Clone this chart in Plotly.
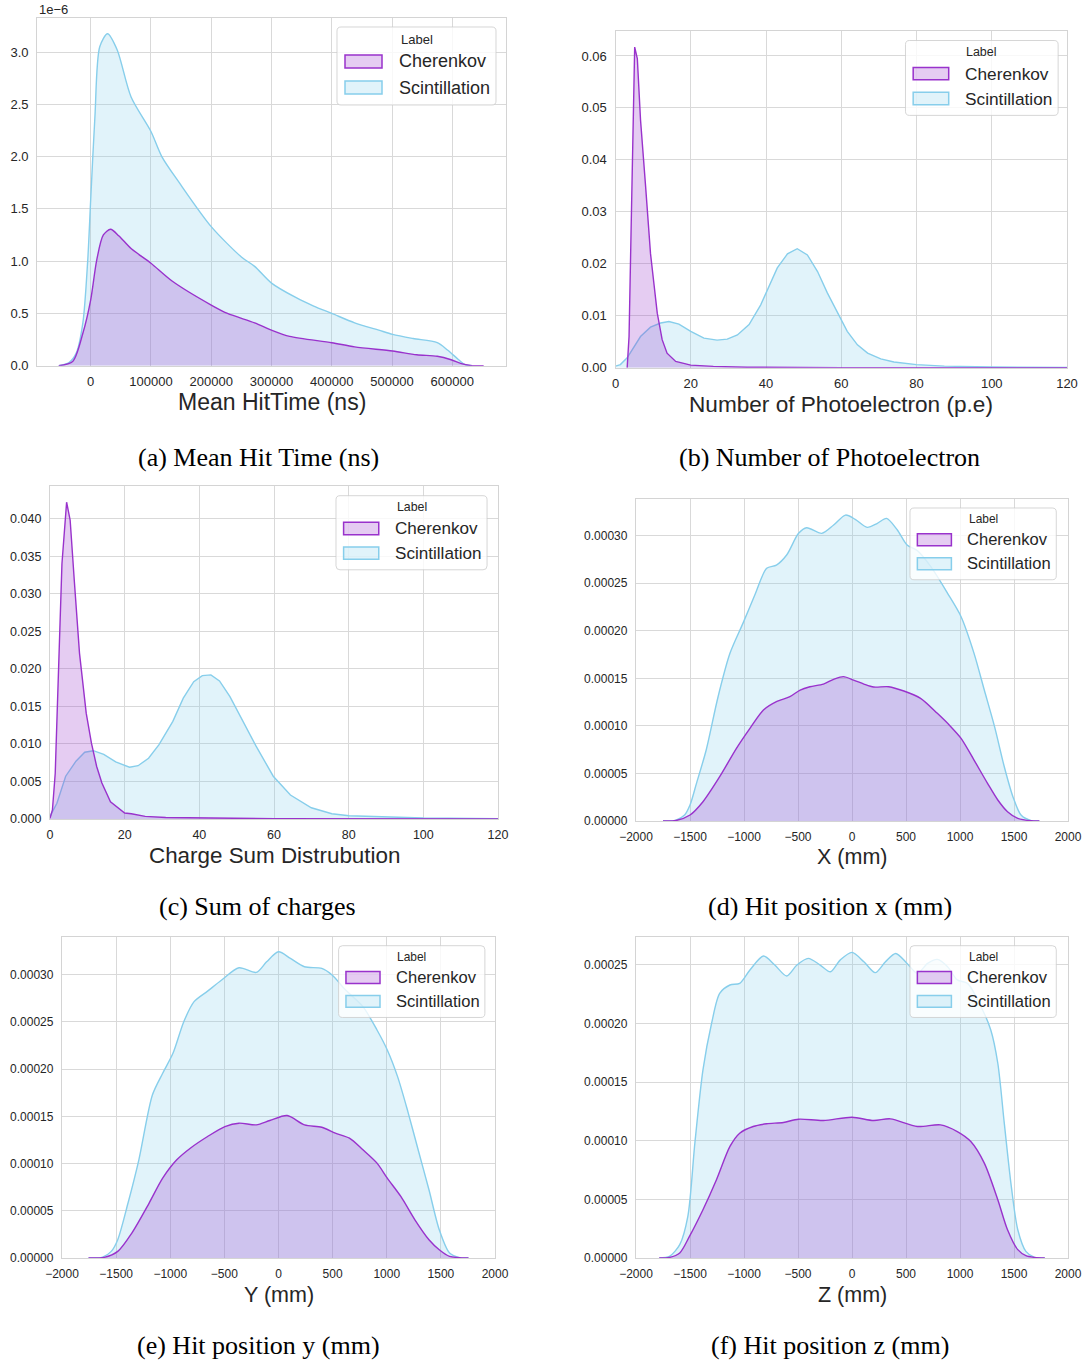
import plotly.graph_objects as go

# ---------------- data ----------------
# (a) Mean hit time, density values in units of 1e-6
a_x_sci = [-53000, -36000, -24000, -13000, -5000, 0, 7000, 15000, 28000, 44000, 67000, 100000,
           118000, 147000, 200000, 250000, 272000, 300000, 341000, 370000, 400000, 438000, 478000,
           501000, 535000, 575000, 592000, 610000, 621000, 633000]
a_y_sci = [0, 0.03, 0.12, 0.41, 1.0, 1.59, 2.38, 3.05, 3.175, 3.02, 2.57, 2.24, 2.0, 1.75, 1.33,
           1.04, 0.95, 0.79, 0.65, 0.57, 0.50, 0.41, 0.34, 0.30, 0.26, 0.22, 0.15, 0.06, 0.01, 0]
a_x_che = [-53000, -30000, -13000, 0, 10000, 21000, 33000, 47000, 67000, 100000, 135000, 200000,
           227000, 272000, 300000, 330000, 400000, 438000, 501000, 541000, 575000, 598000, 615000,
           630000, 652000]
a_y_che = [0, 0.04, 0.31, 0.63, 1.01, 1.25, 1.305, 1.24, 1.12, 0.98, 0.81, 0.58, 0.50, 0.41, 0.34,
           0.28, 0.22, 0.18, 0.14, 0.105, 0.09, 0.057, 0.02, 0.003, 0]

# (b) Number of photoelectron
b_x_che = [3.1, 3.6, 4.2, 4.7, 5.1, 5.8, 6.65, 8.0, 9.3, 11.1, 12.4, 13.7, 16, 20, 26, 35, 47, 60,
           80, 100, 120]
b_y_che = [0, 0.006, 0.0285, 0.0477, 0.0617, 0.0595, 0.0477, 0.0349, 0.022, 0.0105, 0.0054,
           0.0028, 0.0012, 0.0005, 0.00025, 0.0001, 0.00003, 0.00001, 0, 0, 0]
b_x_sci = [0, 1.3, 3.1, 6.65, 9.3, 12, 14.2, 16.85, 20, 23.5, 27, 29.7, 32.4, 35.5, 38.6, 43, 45.7,
           48.3, 51, 53.7, 56.3, 59, 61.6, 64.3, 67, 70.5, 74, 80, 87.4, 100, 120]
b_y_sci = [0.0003, 0.0006, 0.0019, 0.006, 0.0078, 0.0086, 0.0089, 0.0084, 0.007, 0.0057, 0.0053,
           0.0055, 0.0063, 0.0083, 0.0121, 0.0192, 0.0219, 0.0229, 0.0217, 0.0185, 0.0144, 0.0105,
           0.007, 0.0044, 0.0028, 0.0017, 0.0011, 0.0006, 0.0003, 0.00013, 0.00005]

# (c) Sum of charges
c_x_che = [0, 0.65, 1.4, 2.3, 3.2, 4.45, 5.4, 6.5, 7.9, 9.7, 11.1, 12.5, 13.9, 16.2, 18.1, 20,
           21.8, 25.5, 31, 42, 60, 120]
c_y_che = [0.0001, 0.0012, 0.0061, 0.0194, 0.034, 0.0422, 0.0398, 0.0318, 0.0221, 0.0141, 0.0101,
           0.007, 0.0048, 0.0023, 0.0015, 0.0008, 0.0007, 0.00035, 0.0002, 0.0001, 0.00003, 0]
c_x_sci = [0, 1.85, 4.2, 6.95, 9.3, 11.6, 14.4, 17.6, 21.3, 23.6, 26.4, 29.2, 32.9, 35.7, 38.5,
           40.8, 43.1, 45.4, 48.2, 51.4, 55.2, 59.8, 64.4, 70, 75.5, 80.1, 88.5, 100, 120]
c_y_sci = [0.00035, 0.0021, 0.0057, 0.0077, 0.0089, 0.0091, 0.0086, 0.0076, 0.0069, 0.0071,
           0.0081, 0.0099, 0.013, 0.0161, 0.0183, 0.0191, 0.0192, 0.0184, 0.0163, 0.0132, 0.0097,
           0.0057, 0.0032, 0.0015, 0.0007, 0.00044, 0.00027, 0.00013, 0.00004]

# (d) Hit position x
d_x_sci = [-1750, -1630, -1550, -1500, -1440, -1350, -1240, -1130, -1010, -900, -790, -700, -605,
           -495, -420, -280, -170, -60, 30, 140, 235, 320, 420, 510, 605, 730, 885, 1010, 1130,
           1225, 1320, 1410, 1490, 1565, 1660, 1735]
d_y_sci = [0, 0.0000010, 0.0000063, 0.0000168, 0.0000396, 0.0000747, 0.0001307, 0.0001763,
           0.0002078, 0.0002376, 0.0002657, 0.0002691, 0.0002797, 0.0003025, 0.0003084, 0.0003025,
           0.0003112, 0.0003217, 0.0003172, 0.0003088, 0.0003130, 0.0003182, 0.0003060, 0.0002902,
           0.0002843, 0.0002674, 0.0002394, 0.0002148, 0.0001763, 0.0001377, 0.0000992, 0.0000571,
           0.0000256, 0.0000063, 0.0000004, 0]
d_x_che = [-1750, -1630, -1500, -1380, -1225, -1070, -945, -820, -700, -575, -480, -390, -265,
           -170, -80, 15, 110, 200, 340, 480, 635, 790, 915, 1010, 1130, 1255, 1350, 1440, 1535,
           1660, 1735]
d_y_che = [0, 0.0000005, 0.0000063, 0.0000203, 0.0000466, 0.0000764, 0.0000974, 0.0001167,
           0.0001255, 0.0001307, 0.0001377, 0.0001412, 0.0001440, 0.0001489, 0.0001518, 0.0001482,
           0.0001440, 0.0001409, 0.0001412, 0.0001367, 0.0001290, 0.0001132, 0.0000992, 0.0000869,
           0.0000641, 0.0000396, 0.0000221, 0.0000098, 0.0000028, 0.0000002, 0]

# (e) Hit position y
e_x_sci = [-1755, -1625, -1545, -1485, -1390, -1290, -1165, -1070, -975, -875, -780, -655, -525,
           -365, -205, -110, 0, 110, 240, 400, 495, 620, 780, 910, 1005, 1100, 1195, 1290, 1390,
           1485, 1580, 1675, 1755]
e_y_sci = [0, 0.0000010, 0.0000070, 0.0000194, 0.0000582, 0.0001040, 0.0001727, 0.0001957,
           0.0002168, 0.0002503, 0.0002715, 0.0002827, 0.0002944, 0.0003074, 0.0003025, 0.0003137,
           0.0003243, 0.0003173, 0.0003085, 0.0003067, 0.0002997, 0.0002838, 0.0002662, 0.0002415,
           0.0002203, 0.0001921, 0.0001551, 0.0001146, 0.0000723, 0.0000300, 0.0000053, 0.0000004, 0]
e_x_che = [-1755, -1610, -1485, -1355, -1195, -1070, -940, -815, -655, -495, -365, -205, -80, 80,
           240, 400, 525, 655, 780, 910, 1005, 1130, 1260, 1390, 1485, 1580, 1755]
e_y_che = [0, 0.0000007, 0.0000070, 0.0000264, 0.0000582, 0.0000846, 0.0001040, 0.0001163,
           0.0001287, 0.0001392, 0.0001428, 0.0001410, 0.0001456, 0.0001509, 0.0001410, 0.0001385,
           0.0001322, 0.0001269, 0.0001146, 0.0001005, 0.0000846, 0.0000652, 0.0000405, 0.0000194,
           0.0000088, 0.0000018, 0]

# (f) Hit position z
f_x_sci = [-1785, -1690, -1595, -1520, -1455, -1380, -1300, -1225, -1130, -1040, -945, -820, -715,
           -605, -510, -405, -295, -200, -110, 0, 110, 215, 310, 405, 510, 605, 700, 790, 885, 975,
           1070, 1195, 1285, 1350, 1410, 1475, 1535, 1610, 1690, 1785]
f_y_sci = [0, 0.0000014, 0.0000114, 0.0000355, 0.0000979, 0.0001603, 0.0002001, 0.0002256,
           0.0002327, 0.0002341, 0.0002455, 0.0002574, 0.0002497, 0.0002404, 0.0002497, 0.0002554,
           0.0002497, 0.0002440, 0.0002539, 0.0002605, 0.0002525, 0.0002432, 0.0002525, 0.0002596,
           0.0002511, 0.0002426, 0.0002511, 0.0002545, 0.0002483, 0.0002370, 0.0002341, 0.0002142,
           0.0001944, 0.0001660, 0.0001149, 0.0000610, 0.0000241, 0.0000057, 0.0000006, 0]
f_x_che = [-1785, -1690, -1595, -1505, -1380, -1255, -1130, -1040, -915, -790, -635, -495, -265,
           0, 200, 355, 605, 820, 975, 1100, 1225, 1350, 1440, 1535, 1610, 1690, 1785]
f_y_che = [0, 0.0000005, 0.0000043, 0.0000184, 0.0000411, 0.0000667, 0.0000951, 0.0001064,
           0.0001121, 0.0001144, 0.0001155, 0.0001183, 0.0001172, 0.0001200, 0.0001172, 0.0001186,
           0.0001121, 0.0001135, 0.0001078, 0.0000993, 0.0000809, 0.0000497, 0.0000241, 0.0000071,
           0.0000020, 0.0000005, 0]

series_names = ["Cherenkov", "Scintillation"]
legend_title = "Label"
x_titles = ["Mean HitTime (ns)", "Number of Photoelectron (p.e)", "Charge Sum Distrubution",
            "X (mm)", "Y (mm)", "Z (mm)"]
captions = ["(a) Mean Hit Time (ns)", "(b) Number of Photoelectron", "(c) Sum of charges",
            "(d) Hit position x (mm)", "(e) Hit position y (mm)", "(f) Hit position z (mm)"]
offset_text_a = "1e\u22126"

# ---------------- styling / layout ----------------
W, H = 1084, 1362
PURPLE = "#9932CC"
PURPLE_FILL = "rgba(153,50,204,0.25)"
BLUE = "#87CEEB"
BLUE_FILL = "rgba(135,206,235,0.25)"
TXT = "#262626"
GRID = "#d9d9d9"
FRAME = "#d4d4d4"
SANS = "Liberation Sans, Arial, sans-serif"
SERIF = "Liberation Serif, Times New Roman, serif"


def px(x):
    return x / W


def py(y):
    return 1 - y / H


panels = [
    dict(data=(a_x_sci, a_y_sci, a_x_che, a_y_che), frame=(37.3, 505.7, 17.7, 365.7),
         xr=[-88600, 688600], yr=[0, 3.328], xdt=100000, ydt=0.5, yfmt=".1f",
         tick=13, title=23, leg=(337, 27, 1.0), cap=(258, 457), shape="spline"),
    dict(data=(b_x_sci, b_y_sci, b_x_che, b_y_che), frame=(615.5, 1067, 31, 367.7),
         xr=[0, 120], yr=[0, 0.0648], xdt=20, ydt=0.01, yfmt=".2f",
         tick=13, title=22.6, leg=(905.5, 40.5, 0.96), cap=(829.5, 457), shape="linear"),
    dict(data=(c_x_sci, c_y_sci, c_x_che, c_y_che), frame=(50, 498, 486, 819),
         xr=[0, 120], yr=[0, 0.04436], xdt=20, ydt=0.005, yfmt=".3f",
         tick=12.5, title=22.4, leg=(336, 495.7, 0.95), cap=(257.5, 907), shape="linear"),
    dict(data=(d_x_sci, d_y_sci, d_x_che, d_y_che), frame=(636, 1068, 499, 821),
         xr=[-2000, 2000], yr=[0, 0.0003386], xdt=500, ydt=0.00005, yfmt=".5f",
         tick=12, title=21.5, leg=(910, 508, 0.92), cap=(829.5, 907), shape="spline"),
    dict(data=(e_x_sci, e_y_sci, e_x_che, e_y_che), frame=(62, 495, 937, 1258),
         xr=[-2000, 2000], yr=[0, 0.00034], xdt=500, ydt=0.00005, yfmt=".5f",
         tick=12, title=21.5, leg=(338.6, 945.7, 0.92), cap=(258, 1345), shape="spline"),
    dict(data=(f_x_sci, f_y_sci, f_x_che, f_y_che), frame=(636, 1068, 937, 1258),
         xr=[-2000, 2000], yr=[0, 0.0002736], xdt=500, ydt=0.00005, yfmt=".5f",
         tick=12, title=21.5, leg=(910, 945.7, 0.92), cap=(829.5, 1345), shape="spline"),
]

fig = go.Figure()
layout = dict(width=W, height=H, margin=dict(l=0, r=0, t=0, b=0, pad=0, autoexpand=False),
              paper_bgcolor="white", plot_bgcolor="white", showlegend=False)
annotations = []
shapes = []


def rounded_rect(x0, y0, x1, y1, r):
    # pixel coords -> paper path with rounded corners
    X = lambda v: f"{px(v):.6f}"
    Y = lambda v: f"{py(v):.6f}"
    return (f"M{X(x0 + r)},{Y(y0)} L{X(x1 - r)},{Y(y0)} Q{X(x1)},{Y(y0)} {X(x1)},{Y(y0 + r)} "
            f"L{X(x1)},{Y(y1 - r)} Q{X(x1)},{Y(y1)} {X(x1 - r)},{Y(y1)} "
            f"L{X(x0 + r)},{Y(y1)} Q{X(x0)},{Y(y1)} {X(x0)},{Y(y1 - r)} "
            f"L{X(x0)},{Y(y0 + r)} Q{X(x0)},{Y(y0)} {X(x0 + r)},{Y(y0)} Z")


for i, p in enumerate(panels):
    n = "" if i == 0 else str(i + 1)
    xs, ys, xc, yc = p["data"]
    fig.add_trace(go.Scatter(x=xs, y=ys, mode="lines", fill="tozeroy", fillcolor=BLUE_FILL,
                             line=dict(color=BLUE, width=1.4, shape=p["shape"], smoothing=0.8),
                             name=series_names[1], xaxis="x" + n, yaxis="y" + n,
                             hoverinfo="skip"))
    fig.add_trace(go.Scatter(x=xc, y=yc, mode="lines", fill="tozeroy", fillcolor=PURPLE_FILL,
                             line=dict(color=PURPLE, width=1.4, shape=p["shape"], smoothing=0.8),
                             name=series_names[0], xaxis="x" + n, yaxis="y" + n,
                             hoverinfo="skip"))
    L, R, T, B = p["frame"]
    common = dict(showgrid=True, gridcolor=GRID, gridwidth=1, zeroline=False, showline=True,
                  mirror=True, linecolor=FRAME, linewidth=1.3, ticks="outside", automargin=False,
                  tickcolor="rgba(0,0,0,0)", tickfont=dict(family=SANS, size=p["tick"], color=TXT))
    layout["xaxis" + n] = dict(common, domain=[px(L), px(R)], range=p["xr"], anchor="y" + n,
                               tickmode="linear", tick0=0, dtick=p["xdt"], tickformat="d",
                               ticklen=4)
    layout["yaxis" + n] = dict(common, domain=[py(B), py(T)], range=p["yr"], anchor="x" + n,
                               tickmode="linear", tick0=0, dtick=p["ydt"], tickformat=p["yfmt"],
                               ticklen=5)
    # axis title
    annotations.append(dict(text=x_titles[i], x=px((L + R) / 2), y=py(B + 36.5), xref="paper",
                            yref="paper", xanchor="center", yanchor="middle", showarrow=False,
                            font=dict(family=SANS, size=p["title"], color=TXT)))
    # caption
    cx, cy = p["cap"]
    annotations.append(dict(text=captions[i], x=px(cx), y=py(cy), xref="paper", yref="paper",
                            xanchor="center", yanchor="middle", showarrow=False,
                            font=dict(family=SERIF, size=26, color="black")))
    # legend (matplotlib-style box)
    lx, ly, k = p["leg"]
    shapes.append(dict(type="path", xref="paper", yref="paper",
                       path=rounded_rect(lx, ly, lx + 159 * k, ly + 78 * k, 4),
                       fillcolor="rgba(255,255,255,0.8)", line=dict(color="rgba(204,204,204,0.8)", width=1)))
    annotations.append(dict(text=legend_title, x=px(lx + 79.5 * k), y=py(ly + 12 * k), xref="paper",
                            yref="paper", xanchor="center", yanchor="middle", showarrow=False,
                            font=dict(family=SANS, size=13 * k, color=TXT)))
    for j, (lc, fc) in enumerate([(PURPLE, "rgba(153,50,204,0.25)"), (BLUE, "rgba(135,206,235,0.25)")]):
        y0 = ly + (28 + 26 * j) * k
        shapes.append(dict(type="rect", xref="paper", yref="paper",
                           x0=px(lx + 8 * k), x1=px(lx + 45 * k), y0=py(y0), y1=py(y0 + 13 * k),
                           fillcolor=fc, line=dict(color=lc, width=1.5)))
        annotations.append(dict(text=series_names[j], x=px(lx + 60 * k), y=py(y0 + 6.5 * k),
                                xref="paper", yref="paper", xanchor="left", yanchor="middle",
                                showarrow=False, font=dict(family=SANS, size=18 * k, color=TXT)))

# scientific offset text of panel (a)
annotations.append(dict(text=offset_text_a, x=px(37), y=py(9), xref="paper", yref="paper",
                        xanchor="left", yanchor="middle", showarrow=False,
                        font=dict(family=SANS, size=13, color=TXT)))

layout["annotations"] = annotations
layout["shapes"] = shapes
fig.update_layout(**layout)
fig.write_html("out.html", config={"responsive": False, "displayModeBar": False},
               post_script="document.body.style.margin='0';document.body.style.overflow='hidden';")
